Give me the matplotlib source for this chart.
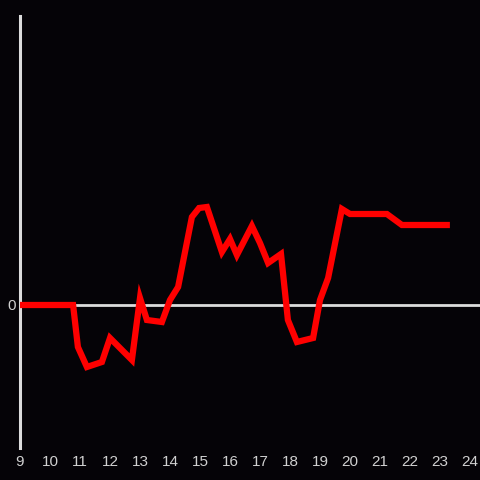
import matplotlib
matplotlib.use("Agg")
import matplotlib.pyplot as plt

hours = [9.0, 10.77, 10.93, 11.23, 11.73, 12.0, 12.73, 13.0, 13.23, 13.73, 14.0, 14.27,
         14.73, 14.97, 15.23, 15.73, 16.0, 16.23, 16.73, 17.0, 17.27, 17.7, 17.93, 18.23,
         18.77, 19.0, 19.27, 19.73, 20.0, 21.23, 21.73, 23.33]
values = [0.0, 0.0, -4.2, -6.2, -5.7, -3.3, -5.5, 0.7, -1.5, -1.7, 0.5, 1.8,
          8.8, 9.7, 9.8, 5.3, 6.6, 5.0, 7.9, 6.2, 4.2, 5.1, -1.5, -3.7,
          -3.3, 0.5, 2.7, 9.6, 9.1, 9.1, 8.0, 8.0]
xticks = list(range(9, 25))
yticks = [0]

bg = "#050307"
fg = "#dcdcdc"

fig = plt.figure(figsize=(4.8, 4.8), dpi=100, facecolor=bg)
ax = fig.add_axes([20/480, 32/480, 460/480, 432/480], facecolor=bg)
ax.set_xlim(9, 9 + 460/30)
ax.set_ylim(-14.3, 28.9)

ax.axhline(0, color=fg, lw=2.0, zorder=1)
ax.plot(hours, values, color="#ff0000", lw=4.5, solid_joinstyle="miter",
        solid_capstyle="butt", zorder=5, clip_on=False)

for s in ["top", "right", "bottom"]:
    ax.spines[s].set_visible(False)
ax.spines["left"].set_color(fg)
ax.spines["left"].set_linewidth(2.2)
ax.spines["left"].set_zorder(2)

ax.set_xticks(xticks)
ax.set_xticklabels([str(t) for t in xticks])
ax.set_yticks(yticks)
ax.set_yticklabels(["0"])
ax.tick_params(axis="both", length=0, colors=fg, labelsize=11)
ax.tick_params(axis="x", pad=5)
ax.tick_params(axis="y", pad=3)
for lbl in ax.get_xticklabels() + ax.get_yticklabels():
    lbl.set_family("Liberation Sans")
    lbl.set_color("#d0d0d0")

fig.savefig("out.png", dpi=100, facecolor=bg)
